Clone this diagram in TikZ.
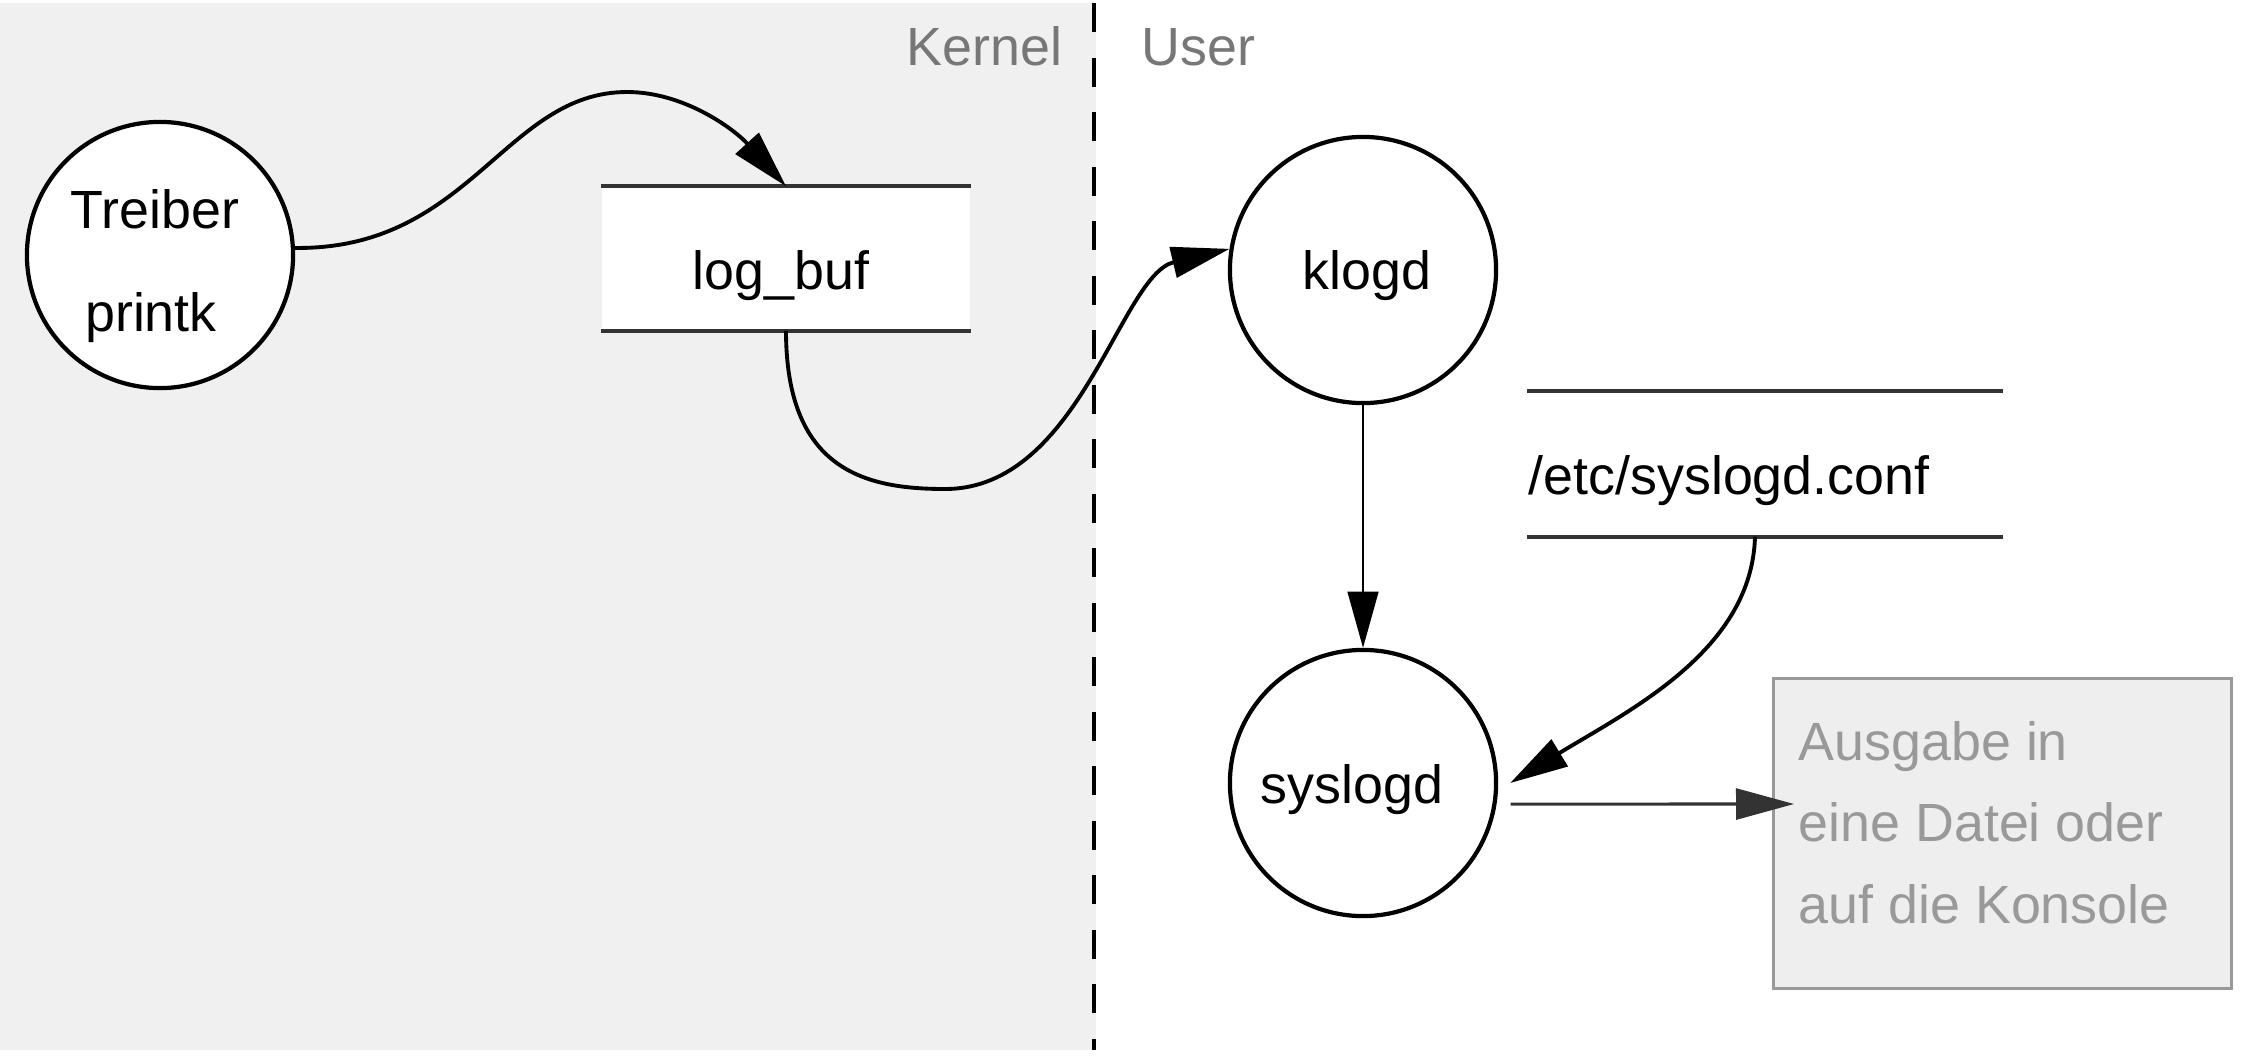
\documentclass[tikz,border=0pt]{standalone}
\usepackage{fontspec}
\setmainfont{Liberation Sans}
\usetikzlibrary{arrows.meta}
\definecolor{bggray}{HTML}{F0F0F0}
\definecolor{labgray}{HTML}{777777}
\definecolor{outgray}{HTML}{999999}
\definecolor{outfill}{HTML}{EEEEEE}
\definecolor{boxline}{HTML}{333333}
\begin{document}
\begin{tikzpicture}[x=0.01cm,y=-0.01cm,
  proc/.style={circle, draw=black, line width=1.2pt, minimum size=2.66cm, inner sep=0pt, fill=white},
  txt/.style={anchor=base, inner sep=0pt, font=\fontsize{15.3}{18}\selectfont},
  store/.style={fill=white, draw=none, inner sep=0pt},
  storeline/.style={draw=boxline, line width=1.1pt},
  arr/.style={-{Triangle[length=16.5pt,width=8.8pt]}, line width=1.1pt},
  thinarr/.style={-{Triangle[length=16pt,width=8.8pt]}, line width=0.5pt},
  outbox/.style={fill=outfill, draw=outgray, line width=0.8pt, inner sep=0pt}
]
\useasboundingbox (0,0) rectangle (2264,1060);
\fill[bggray] (0,3) rectangle (1096,1050);
\draw[line width=0.9pt, dash pattern=on 8.25pt off 7.25pt] (1094,3) -- (1094,1050);

\node[txt, anchor=base east, text=labgray] (kern) at (1063,65) {Kernel};
\node[txt, anchor=base west, text=labgray] (user) at (1141,65) {User};

% Treiber / printk
\node[proc] (tr) at (160,255) {};
\node[txt] (trt) at (155,228) {Treiber};
\node[txt] (prt) at (151,331.5) {printk};

% log_buf
\node[store, minimum width=3.68cm, minimum height=1.43cm] (lb) at (786,258.5) {};
\draw[storeline] (lb.north west) -- (lb.north east);
\draw[storeline] (lb.south west) -- (lb.south east);
\node[txt] (lbt) at (781,289) {log\_buf};

% klogd
\node[proc] (kl) at (1363,270) {};
\node[txt] (klt) at (1367,289) {klogd};

% /etc/syslogd.conf
\node[store, minimum width=4.74cm, minimum height=1.437cm] (cf) at (1765,464) {};
\draw[storeline] (cf.north west) -- (cf.north east);
\draw[storeline] (cf.south west) -- (cf.south east);
\node[txt, anchor=base west] (cft) at (1528,494.5) {/etc/syslogd.conf};

% syslogd
\node[proc] (sl) at (1363,783) {};
\node[txt] (slt) at (1352,803.6) {syslogd};

% output box
\node[outbox, minimum width=4.57cm, minimum height=3.094cm] (ob) at (2002.5,833.3) {};
\node[txt, anchor=base west, text=outgray] (o1) at (1798,760.7) {Ausgabe in};
\node[txt, anchor=base west, text=outgray] (o2) at (1798,841) {eine Datei oder};
\node[txt, anchor=base west, text=outgray] (o3) at (1798,923) {auf die Konsole};
\coordinate (obin) at (1794,804);

% connectors
\draw[arr] (tr.3) .. controls (470,250) and (505,92) .. (627,92)
  .. controls (685,92) and (735,130) .. (lb.north);
\draw[arr] (lb.south) .. controls (786,470) and (865,489) .. (945,489)
  .. controls (1080,489) and (1120,275) .. (kl.171);
\draw[thinarr] (kl.south) -- (sl.north);
\draw[arr] ([xshift=-0.1cm]cf.south) .. controls (1752,650) and (1630,710) .. ([xshift=0.12cm]sl.east);
\draw[arr, line width=0.9pt, draw=boxline] ([xshift=0.14cm]sl.-9) -- (obin);
\end{tikzpicture}
\end{document}
